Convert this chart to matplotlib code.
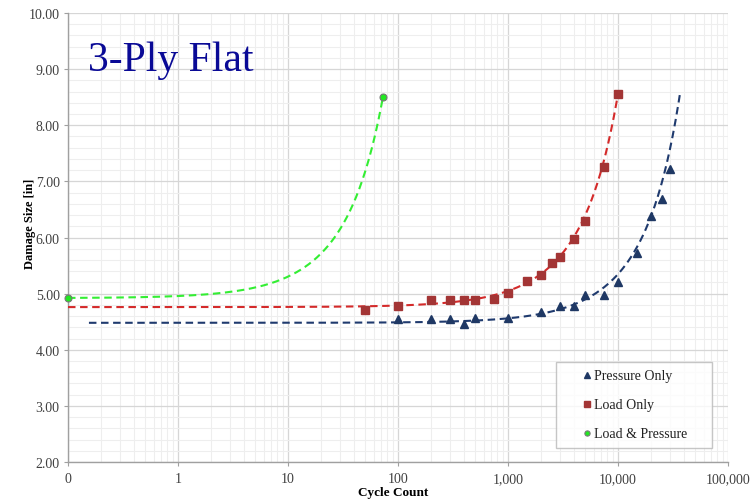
import numpy as np
import matplotlib
matplotlib.use("Agg")
import matplotlib.pyplot as plt
from matplotlib.ticker import FixedLocator, FixedFormatter, LogLocator, MultipleLocator, FormatStrFormatter

plt.rcParams["font.family"] = ["Liberation Serif", "DejaVu Serif"]

# data
pressure_x = [100, 200, 300, 400, 500, 1000, 2000, 3000, 4000, 5000, 7500, 10000, 15000, 20000, 25000, 30000]
pressure_y = [4.55, 4.55, 4.55, 4.46, 4.56, 4.56, 4.68, 4.78, 4.78, 4.97, 4.98, 5.20, 5.73, 6.39, 6.69, 7.22]

load_x = [50, 100, 200, 300, 400, 500, 750, 1000, 1500, 2000, 2500, 3000, 4000, 5000, 7500, 10000]
load_y = [4.70, 4.78, 4.89, 4.89, 4.89, 4.89, 4.90, 5.01, 5.22, 5.33, 5.54, 5.65, 5.97, 6.29, 7.26, 8.56]

both_x = [0.1, 73]
both_y = [4.92, 8.50]

# exponential trendlines y = a * exp(b * x), coefficients,
# with the cycle range each one is drawn over
pressure_trend = (4.48, 1.77e-5)
load_trend = (4.76, 5.87e-5)
both_trend = (4.92, 7.5e-3)
pressure_range = (0.155, 36600)
load_range = (0.1, 10000)
both_range = (0.1, 73)

xticks = [0.1, 1, 10, 100, 1000, 10000, 100000]
xticklabels = ["0", "1", "10", "100", "1,000", "10,000", "100,000"]


def trend(coef, lo, hi):
    a, b = coef
    xs = np.logspace(np.log10(lo), np.log10(hi), 400)
    return xs, a * np.exp(b * xs)


fig = plt.figure(figsize=(7.53, 5.02), dpi=100)
ax = fig.add_axes([68 / 753, 39 / 502, 660 / 753, 449 / 502])

ax.set_xscale("log")
ax.set_xlim(0.1, 100000)
ax.set_ylim(2, 10)

ax.xaxis.set_major_locator(FixedLocator(xticks))
ax.xaxis.set_major_formatter(FixedFormatter(xticklabels))
ax.xaxis.set_minor_locator(LogLocator(base=10, subs=np.arange(2, 10)))
ax.xaxis.set_minor_formatter(FixedFormatter([]))
ax.yaxis.set_major_locator(MultipleLocator(1))
ax.yaxis.set_minor_locator(MultipleLocator(0.2))
ax.yaxis.set_major_formatter(FormatStrFormatter("%.2f"))

ax.grid(which="major", color="#d6d6d6", linewidth=0.9)
ax.grid(which="minor", color="#eeeeee", linewidth=0.8)
ax.set_axisbelow(True)

for side in ["top", "right"]:
    ax.spines[side].set_visible(False)
for side in ["left", "bottom"]:
    ax.spines[side].set_color("#a0a0a0")
    ax.spines[side].set_linewidth(1.0)

ax.tick_params(which="major", length=3, color="#a0a0a0", labelsize=10, labelcolor="#404040", pad=3)
ax.tick_params(which="minor", length=0)
ax.tick_params(axis="x", pad=4)

dash = (0, (3.6, 2.2))
tx, ty = trend(pressure_trend, *pressure_range)
ax.plot(tx, ty, color="#1f3a6e", lw=1.5, ls=dash, zorder=3)
tx, ty = trend(load_trend, *load_range)
ax.plot(tx, ty, color="#d42a2a", lw=1.5, ls=dash, zorder=3)
tx, ty = trend(both_trend, *both_range)
ax.plot(tx, ty, color="#33ee33", lw=1.5, ls=dash, zorder=3)

ax.plot(pressure_x, pressure_y, ls="none", marker="^", ms=6, color="#1f3864",
        mec="#1f3864", label="Pressure Only", zorder=4)
ax.plot(load_x, load_y, ls="none", marker="s", ms=5.8, color="#a33535",
        mec="#a33535", label="Load Only", zorder=4)
ax.plot(both_x, both_y, ls="none", marker="o", ms=5, color="#22e822",
        mec="#777777", mew=0.8, label="Load & Pressure", zorder=4, clip_on=False)

ax.text(0.030, 0.873, "3-Ply Flat", transform=ax.transAxes, fontsize=30,
        color="#0a0a96", ha="left", va="baseline")

ax.set_ylabel("Damage Size [in]", fontsize=9, fontweight="bold",
              bbox=dict(facecolor="white", edgecolor="none", pad=0.5))
ax.yaxis.set_label_coords((35.5 - 68) / 660, (463 - 224) / 449)
ax.set_xlabel("Cycle Count", fontsize=9.5, fontweight="bold")
ax.xaxis.set_label_coords((393 - 68) / 660, (463 - 487) / 449)

bx0 = (556 - 68) / 660
by0 = (463 - 449) / 449
leg = ax.legend(loc="lower left", bbox_to_anchor=(bx0, by0, (712 - 556) / 660, (449 - 360) / 449),
                mode="expand", fontsize=10, frameon=True, fancybox=False,
                borderpad=0.55, labelspacing=1.15, handlelength=3.4,
                handletextpad=-1.2, borderaxespad=0, numpoints=1, markerscale=0.75)
leg.get_frame().set_edgecolor("#b8b8b8")
leg.get_frame().set_linewidth(1.0)
for t in leg.get_texts():
    t.set_color("#202020")

fig.savefig("out.png", dpi=100)
